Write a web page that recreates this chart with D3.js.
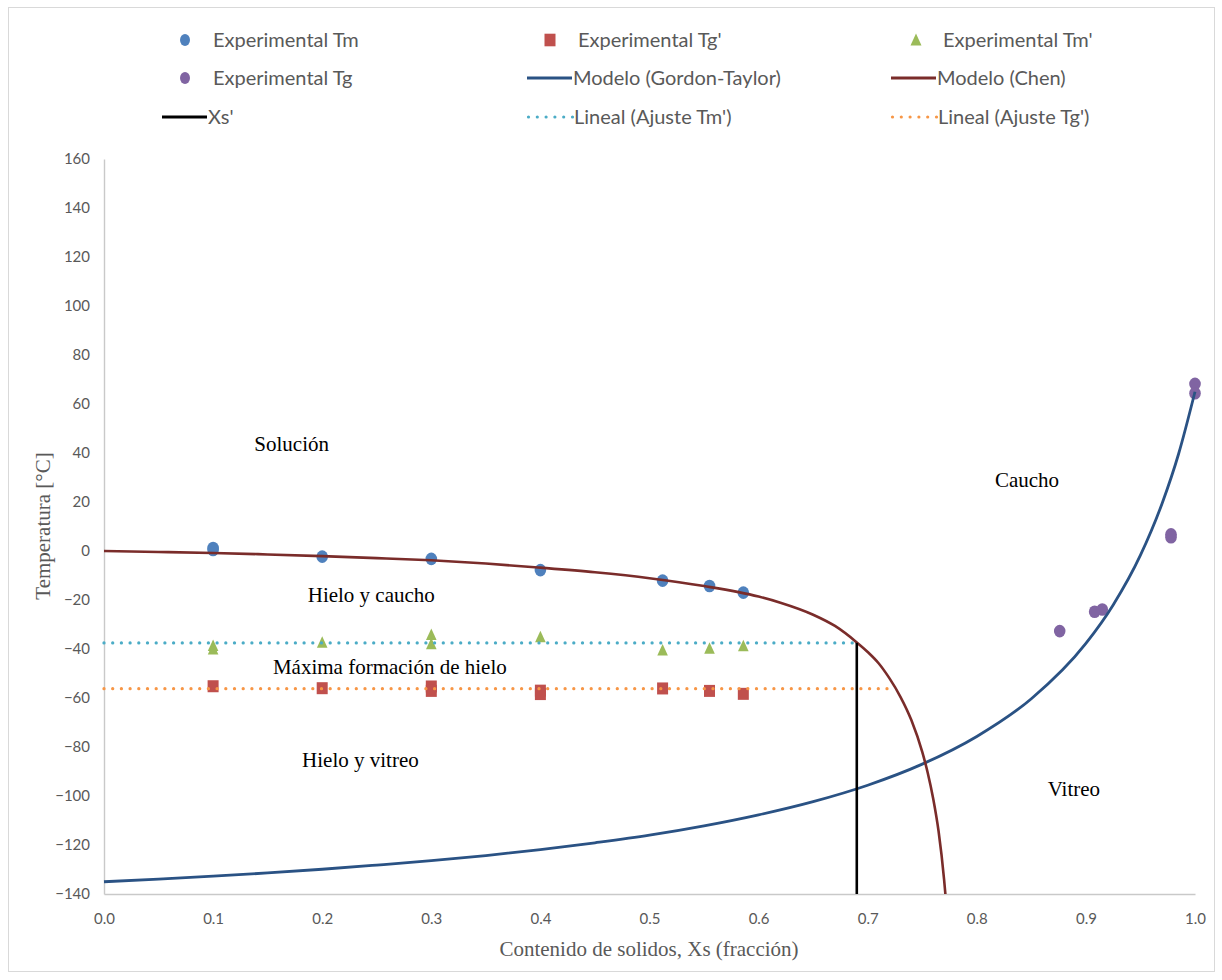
<!DOCTYPE html>
<html>
<head>
<meta charset="utf-8">
<script src="https://cdn.jsdelivr.net/npm/d3@7"></script>
<style>
  body { margin: 0; background: #fff; }
  svg text { font-kerning: normal; }
</style>
</head>
<body>
<svg id="chart" width="1222" height="980"></svg>
<script>
// ---- Experimental points ----
const tmX  = [0.1, 0.1, 0.2, 0.3, 0.4, 0.512, 0.555, 0.586];
const tmY  = [1.2, 0.4, -2.3, -3.2, -7.8, -12.1, -14.3, -17.0];

const tgpX = [0.1, 0.2, 0.3, 0.3, 0.4, 0.4, 0.512, 0.555, 0.586];
const tgpY = [-55.2, -56.0, -55.3, -57.1, -57.0, -58.4, -56.1, -57.1, -58.3];

const tmpX = [0.1, 0.1, 0.2, 0.3, 0.3, 0.4, 0.512, 0.555, 0.586];
const tmpY = [-38.8, -40.2, -37.4, -34.3, -38.1, -35.2, -40.6, -39.9, -38.9];

const tgX  = [0.876, 0.908, 0.915, 0.978, 0.978, 1.0, 1.0];
const tgY  = [-32.7, -24.8, -23.9, 6.8, 5.6, 68.2, 64.4];

// ---- Model curves ----
const gtX = [0, 0.05, 0.1, 0.15, 0.2, 0.25, 0.3, 0.35, 0.4, 0.45, 0.5, 0.55, 0.6, 0.65,
             0.7, 0.75, 0.8, 0.85, 0.9, 0.925, 0.95, 0.97, 0.985, 1.0];
const gtY = [-135, -133.9, -132.7, -131.4, -129.9, -128.2, -126.4, -124.3, -121.9, -119.1,
             -116.0, -112.2, -107.7, -102.3, -95.6, -87.0, -75.7, -60.3, -37.7, -22.0,
             -1.7, 19.6, 39.7, 65];

const chenX = [0, 0.05, 0.1, 0.15, 0.2, 0.25, 0.3, 0.35, 0.4, 0.45, 0.5, 0.55, 0.6, 0.62,
               0.65, 0.67, 0.69, 0.70, 0.71, 0.72, 0.73, 0.74, 0.75, 0.755, 0.76, 0.765,
               0.77, 0.7712];
const chenY = [0, -0.4, -0.8, -1.4, -2.1, -2.9, -3.8, -5.1, -6.8, -8.7, -11.1, -14.3, -18.6,
               -21.1, -26.0, -30.6, -37.3, -41.2, -45.8, -52.0, -59.5, -69.0, -82.0, -90.5,
               -101.0, -114.5, -134.0, -140];

// ---- Xs' and linear fits ----
const xsX    = [0.69, 0.69];
const xsY    = [-140, -37.5];
const tmFitX = [0, 0.69];
const tmFitY = [-37.5, -37.5];
const tgFitX = [0, 0.725];
const tgFitY = [-56.2, -56.2];

// ---- Axes ----
const xTicks = [0, 0.1, 0.2, 0.3, 0.4, 0.5, 0.6, 0.7, 0.8, 0.9, 1.0];
const yTicks = [-140, -120, -100, -80, -60, -40, -20, 0, 20, 40, 60, 80, 100, 120, 140, 160];

// ---- Legend ----
const legendNames = [
  "Experimental Tm", "Experimental Tg'", "Experimental Tm'",
  "Experimental Tg", "Modelo (Gordon-Taylor)", "Modelo (Chen)",
  "Xs'", "Lineal (Ajuste Tm')", "Lineal (Ajuste Tg')"
];

// ---- Region labels ----
const regionNames = ["Solución", "Hielo y caucho", "Máxima formación de hielo",
                     "Hielo y vitreo", "Caucho", "Vitreo"];
const regionX = [0.172, 0.245, 0.262, 0.235, 0.846, 0.889];
const regionY = [41, -21, -50, -88, 26, -100];

const C = {
  tm: "#4F81BD", tgp: "#C0504D", tmp: "#9BBB59", tg: "#8064A2",
  gt: "#2A5284", chen: "#7A2C2A", xs: "#000000",
  tmFit: "#4BACC6", tgFit: "#F79646", text: "#595959", axis: "#C9C9C9"
};

const svg = d3.select("#chart");

// chart frame
svg.append("rect")
  .attr("x", 8.5).attr("y", 7.5).attr("width", 1206).attr("height", 964)
  .attr("fill", "#fff").attr("stroke", "#D9D9D9").attr("stroke-width", 1);

const x = d3.scaleLinear().domain([0, 1]).range([104, 1195]);
const y = d3.scaleLinear().domain([-140, 160]).range([894, 159]);

// x axis
const gx = svg.append("g").attr("transform", "translate(0,894)")
  .call(d3.axisBottom(x).tickValues(xTicks).tickFormat(d3.format(".1f"))
        .tickSize(0).tickPadding(19));
gx.select(".domain").attr("stroke", C.axis).attr("stroke-width", 1.4);
gx.selectAll("text").attr("fill", C.text)
  .style("font-family", "Lato, 'Open Sans', sans-serif").style("font-size", "15px");

// y axis
const gy = svg.append("g").attr("transform", "translate(104,0)")
  .call(d3.axisLeft(y).tickValues(yTicks).tickFormat(d3.format("d"))
        .tickSize(0).tickPadding(14));
gy.select(".domain").attr("stroke", C.axis).attr("stroke-width", 1.4);
gy.selectAll("text").attr("fill", C.text)
  .style("font-family", "Lato, 'Open Sans', sans-serif").style("font-size", "15px");

// axis titles
svg.append("text")
  .attr("x", 649).attr("y", 956).attr("text-anchor", "middle")
  .attr("fill", C.text)
  .style("font-family", "'Liberation Serif', 'DejaVu Serif', serif").style("font-size", "21px")
  .text("Contenido de solidos, Xs (fracción)");
svg.append("text")
  .attr("transform", "translate(50,526) rotate(-90)").attr("text-anchor", "middle")
  .attr("fill", C.text)
  .style("font-family", "'Liberation Serif', 'DejaVu Serif', serif").style("font-size", "21px")
  .text("Temperatura [°C]");

const zip = (xs, ys) => xs.map((v, i) => [v, ys[i]]);
const plot = svg.append("g");

// markers
function ellipses(xs, ys, color) {
  plot.append("g").selectAll("ellipse").data(zip(xs, ys)).join("ellipse")
    .attr("cx", d => x(d[0])).attr("cy", d => y(d[1]))
    .attr("rx", 5.8).attr("ry", 6.3).attr("fill", color);
}
function squares(xs, ys, color) {
  plot.append("g").selectAll("rect").data(zip(xs, ys)).join("rect")
    .attr("x", d => x(d[0]) - 5.5).attr("y", d => y(d[1]) - 6)
    .attr("width", 11).attr("height", 12).attr("fill", color);
}
function triangles(xs, ys, color) {
  plot.append("g").selectAll("path").data(zip(xs, ys)).join("path")
    .attr("d", d => {
      const cx = x(d[0]), cy = y(d[1]);
      return `M${cx},${cy - 6.5}L${cx + 5.3},${cy + 5}L${cx - 5.3},${cy + 5}Z`;
    })
    .attr("fill", color);
}
ellipses(tmX, tmY, C.tm);
squares(tgpX, tgpY, C.tgp);
triangles(tmpX, tmpY, C.tmp);
ellipses(tgX, tgY, C.tg);

// lines
const line = d3.line().x(d => x(d[0])).y(d => y(d[1]));
const smooth = d3.line().x(d => x(d[0])).y(d => y(d[1])).curve(d3.curveMonotoneX);

plot.append("path").datum(zip(gtX, gtY)).attr("d", smooth)
  .attr("fill", "none").attr("stroke", C.gt).attr("stroke-width", 2.8);
plot.append("path").datum(zip(chenX, chenY)).attr("d", smooth)
  .attr("fill", "none").attr("stroke", C.chen).attr("stroke-width", 2.6);
plot.append("path").datum(zip(xsX, xsY)).attr("d", line)
  .attr("fill", "none").attr("stroke", C.xs).attr("stroke-width", 2.6);
plot.append("path").datum(zip(tmFitX, tmFitY)).attr("d", line)
  .attr("fill", "none").attr("stroke", C.tmFit).attr("stroke-width", 3.3)
  .attr("stroke-linecap", "round").attr("stroke-dasharray", "0 8.7");
plot.append("path").datum(zip(tgFitX, tgFitY)).attr("d", line)
  .attr("fill", "none").attr("stroke", C.tgFit).attr("stroke-width", 3.3)
  .attr("stroke-linecap", "round").attr("stroke-dasharray", "0 8.7");

// region labels
plot.append("g").selectAll("text").data(regionNames).join("text")
  .attr("x", (d, i) => x(regionX[i])).attr("y", (d, i) => y(regionY[i]))
  .attr("text-anchor", "middle").attr("fill", "#000")
  .style("font-family", "'Liberation Serif', 'DejaVu Serif', serif").style("font-size", "21px")
  .text(d => d);

// legend
const legendKinds = ["circle", "square", "triangle", "circle", "line", "line", "line", "dots", "dots"];
const legendColors = [C.tm, C.tgp, C.tmp, C.tg, C.gt, C.chen, C.xs, C.tmFit, C.tgFit];
const colMarker = [185, 550, 916];
const colLine = [162, 527, 891];
const rowY = [40, 78, 117];
const lg = svg.append("g");
legendNames.forEach((name, i) => {
  const col = i % 3, row = Math.floor(i / 3);
  const cy = rowY[row];
  const kind = legendKinds[i], color = legendColors[i];
  const g = lg.append("g");
  let tx;
  if (kind === "circle") {
    g.append("ellipse").attr("cx", colMarker[col]).attr("cy", cy)
      .attr("rx", 5).attr("ry", 6).attr("fill", color);
    tx = colMarker[col] + 28;
  } else if (kind === "square") {
    g.append("rect").attr("x", colMarker[col] - 5.5).attr("y", cy - 6.3)
      .attr("width", 11).attr("height", 12.6).attr("fill", color);
    tx = colMarker[col] + 28;
  } else if (kind === "triangle") {
    const cx = colMarker[col];
    g.append("path").attr("d", `M${cx},${cy - 6.5}L${cx + 5.5},${cy + 5.5}L${cx - 5.5},${cy + 5.5}Z`)
      .attr("fill", color);
    tx = colMarker[col] + 27;
  } else if (kind === "line") {
    g.append("line").attr("x1", colLine[col]).attr("x2", colLine[col] + 45)
      .attr("y1", cy).attr("y2", cy).attr("stroke", color).attr("stroke-width", 2.8);
    tx = colLine[col] + 46;
  } else {
    g.append("line").attr("x1", colLine[col] + 1.5).attr("x2", colLine[col] + 46)
      .attr("y1", cy).attr("y2", cy).attr("stroke", color).attr("stroke-width", 3.2)
      .attr("stroke-linecap", "round").attr("stroke-dasharray", "0 8.8");
    tx = colLine[col] + 47;
  }
  g.append("text").attr("x", tx).attr("y", cy).attr("dy", "0.36em")
    .attr("fill", C.text)
    .style("font-family", "Lato, 'Open Sans', sans-serif").style("font-size", "20px")
    .text(name);
});
</script>
</body>
</html>
